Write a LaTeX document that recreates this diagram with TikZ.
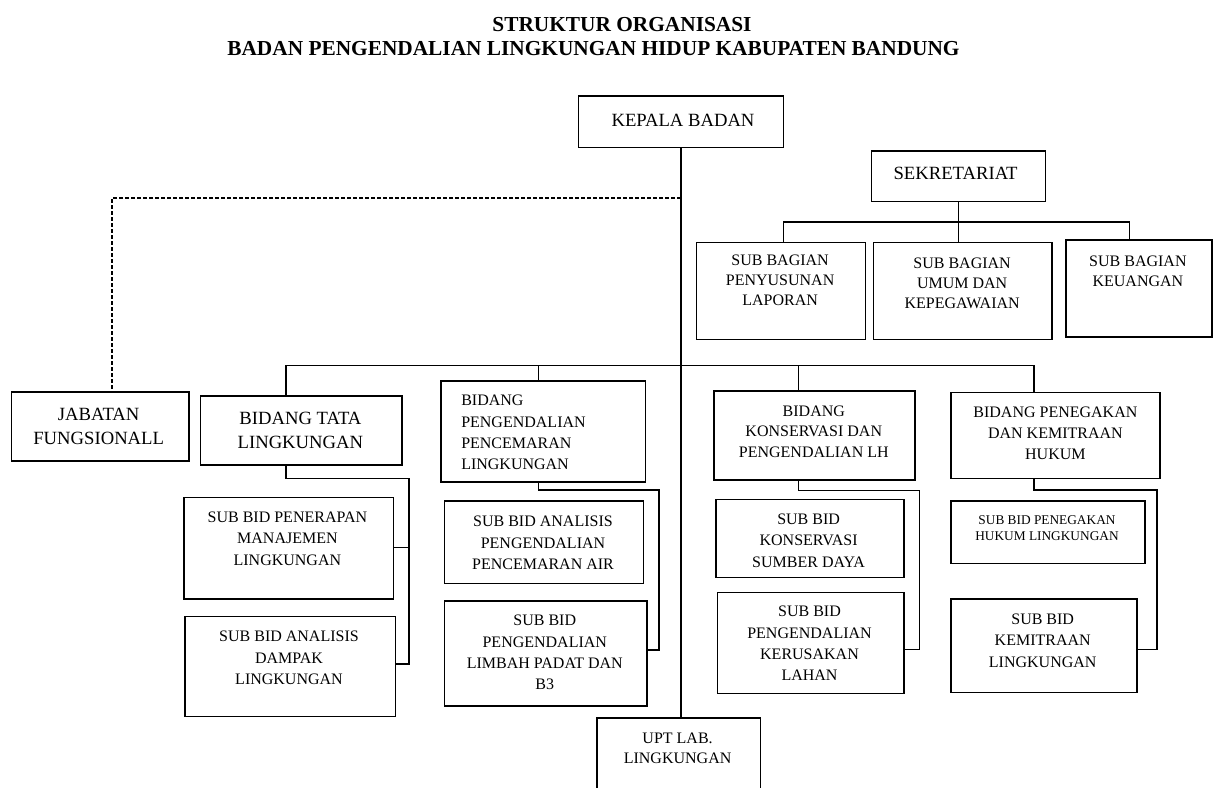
\documentclass[tikz,border=0pt]{standalone}
\usepackage{fontspec}
\setmainfont{Liberation Serif}
\usetikzlibrary{fit}
\tikzset{
x=0.75pt, y=-0.75pt, % one unit is one pixel of the page, y runs down
box/.style={draw, line width=1.2pt, inner sep=0pt}, % the frame of each unit
lbl/.style={inner sep=0pt, align=center, font=\fontsize{12}{16}\selectfont}, % text in a frame
lblbig/.style={lbl, font=\fontsize{14}{18.5}\selectfont},
lblsmall/.style={lbl, font=\fontsize{10}{12.5}\selectfont},
link/.style={line width=0.8pt}, % line of command
dotlink/.style={line width=1.2pt, dash pattern=on 3pt off 1.5pt}, % line of coordination
}
\begin{document}
\begin{tikzpicture}
    \clip (0,0) rectangle (1213,788);
    \fill[white] (0,0) rectangle (1213,788);
    % title
    \node[inner sep=0pt, font=\fontsize{16}{18}\selectfont\bfseries] (title1) at (622,24.1) {STRUKTUR ORGANISASI};
    \node[inner sep=0pt, font=\fontsize{16}{18}\selectfont\bfseries] (title2) at (593.5,48.3) {BADAN PENGENDALIAN LINGKUNGAN HIDUP KABUPATEN BANDUNG};
    % frames
    \node[box, fit={(578.5,96) (783.5,147.7)}] (kepala) {};
    \node[box, fit={(871.5,151) (1045.5,201.3)}] (sekre) {};
    \node[box, fit={(696.3,242.3) (865.3,339.3)}] (penyusunan) {};
    \node[box, fit={(873.4,242.3) (1052.2,339.3)}] (umum) {};
    \node[box, fit={(1065.8,240) (1212,336.7)}] (keuangan) {};
    \node[box, fit={(11.5,392) (188.7,461)}] (jabatan) {};
    \node[box, fit={(200.5,395.7) (401.8,465)}] (tata) {};
    \node[box, fit={(441,380.7) (645.3,482)}] (pencemaran) {};
    \node[box, fit={(713.8,390.7) (914.7,480)}] (konservasi) {};
    \node[box, fit={(950.7,392.3) (1160.2,478.3)}] (penegakan) {};
    \node[box, fit={(183.7,497.3) (393.4,599)}] (penerapan) {};
    \node[box, fit={(185.2,616.3) (395.3,716.3)}] (dampak) {};
    \node[box, fit={(444.3,500.8) (643.3,583.5)}] (analisis) {};
    \node[box, fit={(444.3,600.7) (646.7,706)}] (limbah) {};
    \node[box, fit={(715.7,499.3) (904.1,577.3)}] (sumberdaya) {};
    \node[box, fit={(717.3,592.3) (903.8,693.3)}] (kerusakan) {};
    \node[box, fit={(950.7,501) (1145,563.3)}] (hukum) {};
    \node[box, fit={(950.7,599) (1137.1,692.3)}] (kemitraan) {};
    \node[box, fit={(596.7,717.7) (760.3,800)}] (upt) {};
    % texts
    \node[lblbig] (kepala-t) at (683,120) {KEPALA BADAN};
    \node[lblbig] (sekre-t) at (955.6,173) {SEKRETARIAT};
    \node[lbl, font=\fontsize{12}{15}\selectfont] (penyusunan-t) at (780.1,280.7) {SUB BAGIAN\\PENYUSUNAN\\LAPORAN};
    \node[lbl, font=\fontsize{12}{15}\selectfont] (umum-t) at (962.1,283.7) {SUB BAGIAN\\UMUM DAN\\KEPEGAWAIAN};
    \node[lbl, font=\fontsize{12}{15}\selectfont] (keuangan-t) at (1137.9,271.7) {SUB BAGIAN\\KEUANGAN};
    \node[lblbig] (jabatan-t) at (98.7,426.5) {JABATAN\\FUNGSIONALL};
    \node[lblbig] (tata-t) at (300.4,430.3) {BIDANG TATA\\LINGKUNGAN};
    \node[lbl, align=left, anchor=west] (pencemaran-t) at (461,432.5) {BIDANG\\PENGENDALIAN\\PENCEMARAN\\LINGKUNGAN};
    \node[lbl, font=\fontsize{12}{15.6}\selectfont] (konservasi-t) at (813.8,431.7) {BIDANG\\KONSERVASI DAN\\PENGENDALIAN LH};
    \node[lbl] (penegakan-t) at (1055.4,433.3) {BIDANG PENEGAKAN\\DAN KEMITRAAN\\HUKUM};
    \node[lbl] (penerapan-t) at (287.4,538.7) {SUB BID PENERAPAN\\MANAJEMEN\\LINGKUNGAN};
    \node[lbl] (dampak-t) at (289,658) {SUB BID ANALISIS\\DAMPAK\\LINGKUNGAN};
    \node[lbl] (analisis-t) at (543,543) {SUB BID ANALISIS\\PENGENDALIAN\\PENCEMARAN AIR};
    \node[lbl] (limbah-t) at (544.8,652.5) {SUB BID\\PENGENDALIAN\\LIMBAH PADAT DAN\\B3};
    \node[lbl] (sumberdaya-t) at (808.6,540.5) {SUB BID\\KONSERVASI\\SUMBER DAYA};
    \node[lbl] (kerusakan-t) at (809.5,643.5) {SUB BID\\PENGENDALIAN\\KERUSAKAN\\LAHAN};
    \node[lblsmall] (hukum-t) at (1047,528.3) {SUB BID PENEGAKAN\\HUKUM LINGKUNGAN};
    \node[lbl] (kemitraan-t) at (1042.7,640.5) {SUB BID\\KEMITRAAN\\LINGKUNGAN};
    \node[lbl, font=\fontsize{12}{15}\selectfont] (upt-t) at (677.6,748) {UPT LAB.\\LINGKUNGAN};
    % turning points of the lines
    \coordinate (busW) at (286,365.5);
    \coordinate (busB) at (538.5,365.5);
    \coordinate (busC) at (798.5,365.5);
    \coordinate (busE) at (1034,365.5);
    \coordinate (sbW) at (783.7,222);
    \coordinate (sbE) at (1129.7,222);
    \coordinate (dashW) at (112,198);
    \coordinate (tataT) at (409,478.3);
    \coordinate (tataM) at (409,547.7);
    \coordinate (tataB) at (409,664);
    \coordinate (pcT) at (659,490);
    \coordinate (pcB) at (659,650);
    \coordinate (ksT) at (919.8,490.3);
    \coordinate (ksB) at (919.8,649.3);
    \coordinate (pgT) at (1157,490);
    \coordinate (pgB) at (1157,649.3);
    % lines
    \draw[link] (kepala.south) -- (kepala.south |- upt.north);
    \draw[dotlink] (kepala.south |- dashW) -- (dashW) -- (dashW |- jabatan.north);
    \draw[link] (sekre.south) -- (sekre.south |- umum.north);
    \draw[link] (sbW |- penyusunan.north) -- (sbW) -- (sbE) -- (sbE |- keuangan.north);
    \draw[link] (busW |- tata.north) -- (busW) -- (busE) -- (busE |- penegakan.north);
    \draw[link] (busB) -- (busB |- pencemaran.north);
    \draw[link] (busC) -- (busC |- konservasi.north);
    \draw[link] (busW |- tata.south) -- (busW |- tataT) -- (tataT) -- (tataB) -- (tataB -| dampak.east);
    \draw[link] (tataM) -- (tataM -| penerapan.east);
    \draw[link] (busB |- pencemaran.south) -- (busB |- pcT) -- (pcT) -- (pcB) -- (pcB -| limbah.east);
    \draw[link] (busC |- konservasi.south) -- (busC |- ksT) -- (ksT) -- (ksB) -- (ksB -| kerusakan.east);
    \draw[link] (busE |- penegakan.south) -- (busE |- pgT) -- (pgT) -- (pgB) -- (pgB -| kemitraan.east);
\end{tikzpicture}
\end{document}
